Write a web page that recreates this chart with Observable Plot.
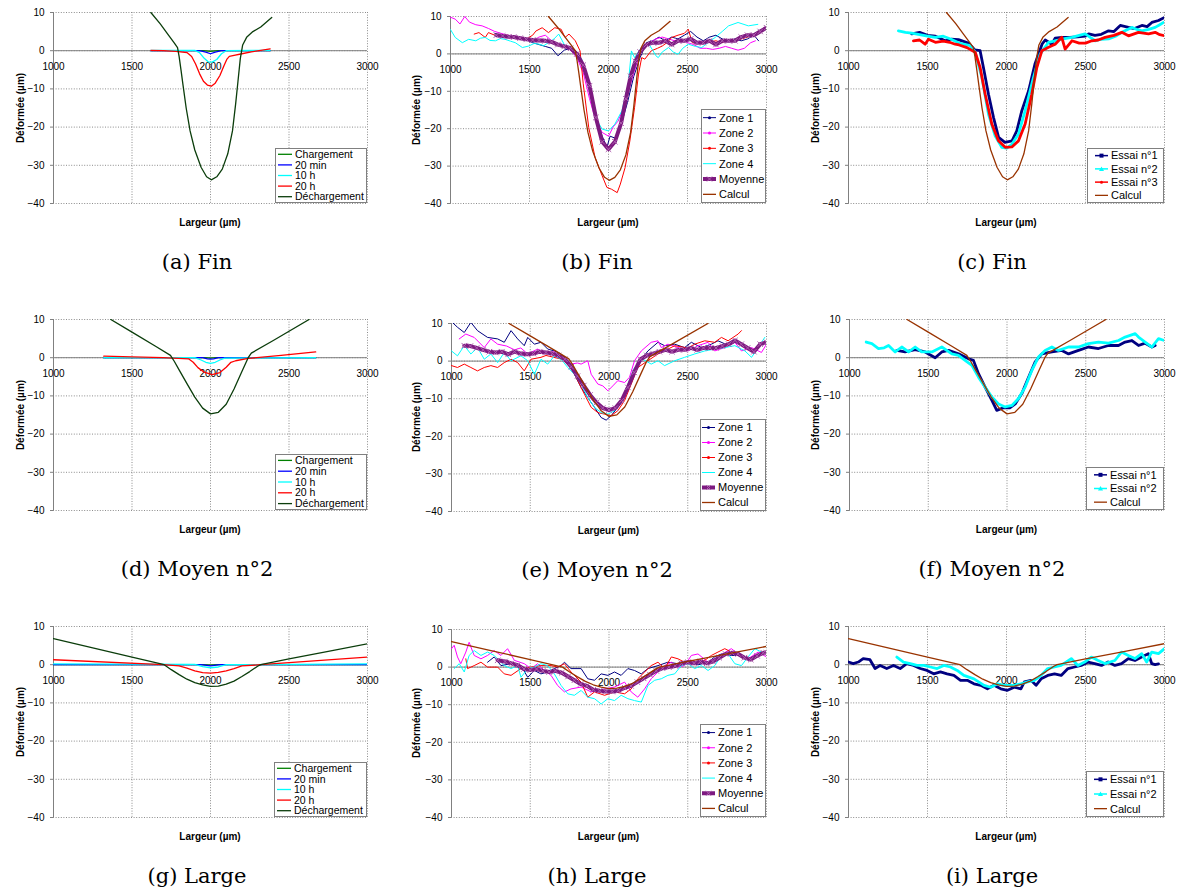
<!DOCTYPE html>
<html>
<head>
<meta charset="utf-8">
<script src="https://cdn.jsdelivr.net/npm/d3@7"></script>
<script src="https://cdn.jsdelivr.net/npm/@observablehq/plot@0.6"></script>
<style>
  html, body { margin: 0; padding: 0; background: #fff; }
  #root { position: relative; width: 1182px; height: 893px; overflow: hidden; background: #fff; }
  .ylab { position: absolute; font: bold 10px "Liberation Sans", Arial, sans-serif; white-space: nowrap; transform: translate(-50%, -50%) rotate(-90deg); }
  .xlab { position: absolute; font: bold 10px "Liberation Sans", Arial, sans-serif; white-space: nowrap; transform: translate(-50%, -50%); }
  .cap { position: absolute; font: 21px "DejaVu Serif", "Liberation Serif", serif; white-space: nowrap; transform: translate(-50%, -50%); color: #000; }
  .leg { position: absolute; box-sizing: border-box; border: 1px solid #808080; background: #fff; }
</style>
</head>
<body>
<div id="root"></div>
<script>
// ---------- axes ----------
const xTicks = [1000, 1500, 2000, 2500, 3000];
const yTicks = [-40, -30, -20, -10, 0, 10];

// ---------- Fin (a, b, c) ----------
const finCharge = [[1620,0],[1950,0],[2000,-0.2],[2050,0],[2380,0]];
const fin20min = [[1620,0],[1930,0],[1970,-0.4],[2000,-0.8],[2030,-0.4],[2070,0],[2380,0]];
const fin10h = [[1620,0.1],[1900,0.1],[1930,-0.5],[1960,-2],[1985,-2.9],[2010,-3],[2040,-2.3],[2070,-0.8],[2100,0],[2380,0.1]];
const fin20h = [[1620,0.1],[1700,0],[1780,-0.2],[1850,-0.5],[1880,-1.5],[1905,-3.5],[1930,-6],[1955,-8],[1980,-9],[2005,-9.3],[2030,-8.5],[2060,-6.5],[2085,-4],[2105,-2.2],[2120,-1.5],[2150,-1.2],[2200,-0.8],[2260,-0.3],[2320,0.1],[2380,0.5]];
const finDecharge = [[1620,10],[1680,7],[1730,4.2],[1770,2],[1790,0.8],[1800,-1.5],[1812,-5],[1825,-9],[1845,-15],[1870,-21],[1900,-26],[1940,-30.5],[1975,-33],[2005,-33.8],[2040,-33],[2075,-31],[2110,-27],[2140,-21],[2160,-14],[2175,-8],[2190,-2],[2205,1.5],[2230,3.5],[2270,5],[2320,6.2],[2390,8.7]];
const finCalcul = finDecharge;

const finZone1 = [[1280,5.5],[1320,5],[1360,4.8],[1400,4.5],[1440,4.2],[1480,3.8],[1520,3],[1560,2.5],[1600,2],[1640,1.5],[1680,-0.5],[1720,1],[1760,1.5],[1800,0.5],[1840,-3],[1880,-10],[1920,-17],[1960,-22],[1990,-25],[2010,-22],[2040,-22.5],[2080,-19],[2120,-13],[2160,-6],[2200,-1],[2240,3],[2280,3.5],[2320,4.5],[2360,3.5],[2400,4.5],[2440,4],[2480,5],[2520,6],[2560,4.5],[2600,3.5],[2640,4.5],[2680,5],[2720,4],[2760,3.5],[2800,4],[2840,3.5],[2880,4],[2920,5],[2950,3.5]];
const finZone2 = [[1000,9.8],[1030,9.3],[1060,8],[1090,10],[1120,8.5],[1160,7.8],[1200,7.5],[1240,6.8],[1280,6],[1320,5.5],[1360,5],[1400,4.8],[1440,4.5],[1480,4],[1520,3.5],[1560,4.5],[1600,5],[1640,3.5],[1680,2.5],[1720,2],[1760,1],[1800,-1],[1840,-5],[1880,-12],[1920,-18],[1960,-21],[2000,-22],[2030,-19.5],[2060,-18],[2090,-15],[2120,-11],[2160,-5],[2200,0],[2240,2.5],[2300,4],[2340,4.5],[2380,4],[2420,3.5],[2460,4],[2500,3],[2540,2.5],[2580,1.5],[2620,1.5],[2660,1.2],[2700,1.5],[2740,2],[2780,1.5],[2820,1],[2860,1.5],[2900,3],[2930,3.5]];
const finZone3 = [[1150,5.3],[1180,5.7],[1220,4.4],[1240,5.7],[1280,5],[1320,4.8],[1360,5],[1400,4.5],[1440,4.2],[1480,4],[1520,5],[1540,6.1],[1580,7],[1620,5.7],[1660,7],[1700,6.6],[1725,4.4],[1750,5.3],[1790,3.5],[1820,0.8],[1840,-8],[1875,-19.7],[1915,-27.7],[1960,-32.6],[1990,-35.7],[2020,-36.2],[2055,-37.1],[2075,-34.8],[2105,-30.4],[2135,-23.3],[2165,-14.3],[2190,-5.4],[2210,-1],[2230,-1.4],[2270,0.8],[2310,1.5],[2340,2.1],[2370,3],[2400,4.4],[2440,5],[2480,5.5],[2505,6.6],[2530,3],[2560,2.8],[2600,3],[2640,3.2],[2680,3.5],[2720,3],[2760,3.8],[2800,3.5],[2840,4],[2880,4.5],[2920,5],[2960,6],[2990,7]];
const finZone4 = [[1000,6.5],[1030,4.4],[1075,3],[1115,3.9],[1160,3.5],[1190,4.2],[1220,4.4],[1250,3.6],[1285,3.5],[1315,4.1],[1345,3.9],[1380,3.4],[1410,3],[1455,1.7],[1495,2.1],[1530,2.8],[1560,2.6],[1590,2.2],[1620,3],[1655,4],[1685,5.3],[1725,2.1],[1790,0.8],[1830,-1.4],[1875,-9],[1915,-17],[1960,-20.1],[2000,-20.6],[2040,-18.8],[2085,-15.2],[2125,-8.1],[2145,0.8],[2165,-1],[2200,1.2],[2255,2.6],[2280,1],[2300,-0.5],[2315,-1],[2340,0.5],[2380,1.7],[2410,0.5],[2440,-0.1],[2470,1.5],[2505,2.6],[2550,2],[2590,1.7],[2630,3],[2675,4.4],[2720,6],[2760,7.5],[2820,8.4],[2885,7.5],[2945,7.9]];
const finMoyenne = [[1290,5],[1330,4.8],[1370,4.6],[1400,4.5],[1440,4.2],[1480,3.9],[1520,3.7],[1560,3.6],[1600,3.5],[1640,3.2],[1680,2.5],[1720,2],[1760,1.5],[1800,0],[1840,-3],[1880,-8.5],[1920,-17],[1960,-23.5],[2000,-25.5],[2040,-23.5],[2080,-18.5],[2110,-12],[2140,-6],[2170,-2],[2200,0.5],[2240,2.5],[2280,3],[2320,3],[2360,3.5],[2400,2.5],[2440,3.5],[2480,3.5],[2520,4],[2560,3],[2600,3],[2640,3.5],[2680,2.5],[2720,3.5],[2760,3.5],[2800,3.5],[2840,4.5],[2880,5],[2920,5],[2960,6],[3000,7]];

const finEssai1 = [[1400,4.4],[1450,4.8],[1500,4],[1550,3.8],[1612,2.6],[1650,3],[1696,2.9],[1759,2],[1800,0.2],[1833,0],[1854,-4.4],[1886,-11.4],[1918,-17.5],[1950,-22.7],[1990,-24],[2035,-23.6],[2065,-21],[2097,-15.7],[2140,-10.5],[2180,-3.5],[2225,1.7],[2245,2.8],[2287,1.7],[2308,3.3],[2350,3.5],[2400,3.5],[2450,3.6],[2500,3.8],[2520,4.4],[2560,4],[2600,4.3],[2646,5.2],[2680,5],[2720,6.6],[2772,6.1],[2810,5.8],[2857,6.6],[2890,6.3],[2920,7.4],[2962,7.9],[3000,8.7]];
const finEssai2 = [[1316,5.2],[1360,4.8],[1400,4.6],[1450,4.2],[1500,3.8],[1550,3.5],[1600,3.8],[1650,3],[1700,2],[1770,1.3],[1802,-0.4],[1844,-7],[1886,-16.6],[1928,-22.3],[1970,-25.3],[2002,-25.5],[2034,-24.5],[2076,-21.8],[2118,-15.7],[2171,-7],[2213,-0.9],[2266,2.2],[2300,2.5],[2350,3],[2414,3.5],[2460,4],[2498,4.4],[2530,3.5],[2561,2.6],[2600,3],[2646,3.1],[2690,3.8],[2730,4.8],[2793,6.1],[2830,5.5],[2857,5.2],[2900,5.6],[2941,6.1],[2970,6.8],[2994,7.4]];
const finEssai3 = [[1411,2.6],[1450,2.8],[1485,1.7],[1506,3],[1550,2.2],[1600,2.5],[1640,2.2],[1675,1.7],[1700,1.5],[1750,0.8],[1802,-0.4],[1833,-4.4],[1865,-11.4],[1907,-19.2],[1949,-23.6],[1992,-25.3],[2034,-25.2],[2076,-23.6],[2118,-19.2],[2160,-11.4],[2192,-4.4],[2224,0],[2266,0.9],[2308,1.7],[2350,3.5],[2371,0.4],[2414,2.6],[2460,2],[2500,2],[2540,2.6],[2580,2.8],[2624,3.5],[2680,4],[2730,4.8],[2772,3.9],[2835,4.8],[2899,4.4],[2941,4.8],[2970,4.2],[3000,3.9]];

// ---------- Moyen n°2 (d, e, f) ----------
const moyCharge = [[1320,0],[1960,0],[2000,-0.1],[2040,0],[2670,0]];
const moy20min = [[1320,0],[1950,0],[1980,-0.3],[2000,-0.4],[2020,-0.3],[2050,0],[2670,0]];
const moy10h = [[1320,0],[1900,0],[1940,-0.6],[1970,-1.2],[2000,-1.5],[2030,-1.2],[2060,-0.6],[2090,-0.1],[2670,0]];
const moy20h = [[1320,0.4],[1500,0.2],[1700,0],[1860,-0.3],[1890,-1.2],[1920,-2.6],[1960,-3.8],[2010,-4.4],[2060,-3.9],[2100,-2.5],[2130,-1.2],[2160,-0.8],[2240,-0.2],[2450,0.6],[2670,1.5]];
const moyDecharge = [[1365,10],[1500,6.7],[1650,3],[1745,0.6],[1770,-1],[1800,-3.2],[1850,-6.8],[1900,-10.3],[1950,-13.2],[2000,-14.7],[2050,-14.3],[2100,-12.2],[2150,-8.2],[2200,-3.6],[2240,0],[2260,1.2],[2400,4.5],[2628,10]];
const moyCalcul = moyDecharge;

const moyZone1 = [[1000,10.5],[1038,9],[1081,7.6],[1123,10.3],[1165,8.1],[1229,6.3],[1293,5.9],[1335,5],[1378,8.1],[1420,5.9],[1462,4.1],[1484,6.3],[1526,4.5],[1568,5],[1611,3.2],[1653,2.7],[1696,1.9],[1738,0],[1780,-3.5],[1823,-7],[1865,-9.7],[1908,-12.3],[1950,-15],[1982,-15.7],[2014,-14.5],[2056,-12.3],[2099,-9.7],[2141,-4.3],[2183,-0.8],[2247,2.7],[2311,5],[2353,4.1],[2417,4.5],[2480,3.6],[2523,5],[2587,3.6],[2650,4.5],[2692,5.4],[2740,4.5],[2800,5],[2850,4.5]];
const moyZone2 = [[1049,5.9],[1091,7.2],[1144,6.3],[1208,3.6],[1250,5.9],[1293,4.5],[1350,4],[1400,3],[1440,3.5],[1484,1.9],[1547,3.2],[1600,2],[1650,2.5],[1700,1],[1759,-0.8],[1800,-0.5],[1823,-0.8],[1865,0.1],[1887,-3.5],[1929,-6.1],[1961,-6.6],[1993,-7.9],[2024,-6.6],[2056,-5.2],[2099,-5.7],[2130,-4.3],[2162,0.1],[2205,2.7],[2268,5],[2311,5.4],[2332,3.6],[2374,4.5],[2438,3.6],[2502,2.7],[2565,4.1],[2629,5],[2671,2.7],[2735,3.6],[2799,5],[2841,2.7],[2905,3.6],[2968,2.3],[3000,4.5]];
const moyZone3 = [[1000,-1.2],[1038,-1.7],[1081,-0.8],[1123,-1.7],[1165,-2.6],[1208,-1.7],[1250,-1.2],[1293,-1.7],[1335,-0.4],[1378,0.5],[1420,-0.4],[1462,-2.6],[1505,0.5],[1568,1],[1600,1.5],[1650,1],[1700,0.5],[1759,-1.7],[1802,-5.2],[1844,-8.8],[1887,-12.3],[1929,-13.7],[1971,-14.1],[2014,-14.5],[2056,-13.2],[2099,-10.5],[2141,-6.1],[2183,-1.7],[2247,0.1],[2311,1.9],[2353,2.7],[2417,4.1],[2500,3.5],[2544,4.5],[2608,5.4],[2671,5],[2714,6.3],[2756,5.4],[2820,7.2],[2841,8.1]];
const moyZone4 = [[1000,2.7],[1038,1.4],[1081,4.1],[1123,1.9],[1165,3.6],[1208,0.5],[1250,1.9],[1293,-0.4],[1335,2.3],[1378,0.1],[1441,1.4],[1484,0.1],[1526,-3.5],[1568,0.5],[1611,-0.8],[1653,1.4],[1696,0.5],[1738,-1.7],[1780,-3.5],[1823,-6.1],[1865,-9.7],[1908,-12.3],[1950,-13.7],[1993,-14.1],[2035,-13.2],[2077,-10.5],[2120,-6.1],[2162,-1.7],[2215,0.5],[2268,-0.8],[2311,0.1],[2353,-1.2],[2417,0.1],[2480,1],[2544,1.9],[2608,2.7],[2671,3.2],[2735,3.6],[2799,4.1],[2863,2.7],[2905,1],[2947,3.6],[2989,6.3]];
const moyMoyenne = [[1081,4.1],[1120,4],[1160,3.5],[1200,3],[1240,2.5],[1280,2.3],[1320,2.5],[1360,1.8],[1400,2.5],[1440,2],[1480,1.8],[1520,2],[1560,2.5],[1600,2.3],[1640,2],[1680,1.5],[1720,0.5],[1760,-1.5],[1800,-4],[1840,-6.5],[1880,-9],[1920,-11],[1960,-12.5],[2000,-13],[2040,-12.5],[2080,-10.5],[2120,-7],[2160,-3],[2200,0.5],[2240,1.5],[2280,2],[2320,2.5],[2360,3],[2400,2.5],[2440,3],[2480,3],[2520,3.5],[2560,3],[2600,3.5],[2640,3.5],[2680,3.5],[2720,4],[2760,4.5],[2800,5.5],[2840,4.5],[2880,3.5],[2920,2.5],[2960,4.5],[3000,5]];

const moyEssai1 = [[1300,1.9],[1353,1.5],[1417,2.1],[1480,1.5],[1544,0],[1586,1.5],[1629,1.9],[1692,1],[1756,-0.3],[1787,-0.7],[1819,-4.2],[1861,-7.7],[1904,-11.2],[1935,-13.8],[1978,-13.1],[2020,-13.1],[2052,-12.1],[2094,-9.4],[2137,-5.1],[2179,-1.1],[2221,1],[2285,1.5],[2348,1.9],[2391,1],[2454,1.9],[2517,2.8],[2581,2.4],[2644,3.2],[2708,3.2],[2750,4.1],[2793,4.5],[2835,3.2],[2877,3.8],[2920,2.8],[2941,3.2]];
const moyEssai2 = [[1106,4.1],[1142,3.7],[1184,2.4],[1220,2.6],[1248,3.2],[1290,1.5],[1332,2.8],[1375,1.5],[1417,2.8],[1459,1.5],[1523,1.5],[1586,2.8],[1650,1],[1692,0.6],[1734,-0.7],[1777,-2],[1819,-5.1],[1861,-7.7],[1904,-10.3],[1946,-12.1],[1988,-12.9],[2031,-12.5],[2073,-10.7],[2115,-7.7],[2158,-3.3],[2200,0.2],[2242,1.9],[2285,2.8],[2327,1.9],[2391,2.8],[2454,2.8],[2517,3.7],[2581,4.1],[2644,3.8],[2708,4.5],[2750,5.4],[2814,6.3],[2835,5.4],[2877,4.1],[2920,2.8],[2962,5],[3000,4.5]];

// ---------- Large (g, h, i) ----------
const lgCharge = [[1000,0],[1950,0],[2000,-0.1],[2050,0],[3000,0]];
const lg20min = [[1000,0],[1940,0],[2000,-0.3],[2060,0],[3000,0]];
const lg10h = [[1000,0.2],[1900,0.1],[1950,-0.5],[2000,-0.8],[2050,-0.6],[2100,0],[3000,0.2]];
const lg20h = [[1000,1.3],[1700,0],[1800,-0.3],[1850,-0.9],[1900,-1.6],[1950,-2.1],[2000,-2.2],[2050,-2],[2100,-1.6],[2150,-1],[2200,-0.3],[2320,0],[3000,2]];
const lgDecharge = [[1000,6.8],[1250,4.4],[1500,2],[1705,0],[1750,-1.3],[1800,-2.6],[1850,-3.8],[1900,-4.7],[1950,-5.3],[2000,-5.7],[2050,-5.6],[2100,-5.1],[2150,-4.3],[2200,-3.1],[2250,-1.8],[2300,-0.4],[2320,0],[2500,1.5],[2750,3.5],[3000,5.5]];
const lgCalcul = lgDecharge;

const lgZone1 = [[1229,1.3],[1271,2.7],[1314,0.4],[1378,0.9],[1441,0.4],[1484,-2.7],[1526,-0.9],[1568,-1.8],[1611,-1.3],[1653,-0.4],[1696,0.4],[1717,1.3],[1759,-0.4],[1823,-0.4],[1865,-3.1],[1908,-3.5],[1950,-1.8],[1993,-2.2],[2035,-1.3],[2077,-2.2],[2120,-0.4],[2162,-0.9],[2205,-1.8],[2247,-0.4],[2311,0.4],[2374,1.3],[2438,0.9],[2502,1.3],[2565,0.6],[2629,1.3],[2671,2.7],[2714,3.5],[2777,3.1],[2841,3.1],[2905,2.2],[2968,3.5]];
const lgZone2 = [[1000,4.9],[1017,5.8],[1038,2.7],[1059,0.9],[1091,4],[1112,6.6],[1144,3.1],[1187,2.2],[1229,3.1],[1271,4.4],[1314,3.1],[1356,4.9],[1399,1.8],[1462,0.9],[1505,-0.4],[1547,0.9],[1590,-0.9],[1632,-2.2],[1674,-4.9],[1717,-6.6],[1759,-5.8],[1823,-5.3],[1887,-6.6],[1929,-6.2],[1972,-5.8],[2035,-5.3],[2099,-4],[2141,-6.6],[2183,-8],[2226,-5.8],[2268,-3.1],[2311,-1.3],[2353,0.4],[2396,1.3],[2438,0],[2480,0.4],[2523,3.1],[2565,3.5],[2629,1.3],[2692,2.7],[2756,4.4],[2777,4.9],[2820,3.5],[2883,2.2],[2947,4],[3000,2.7]];
const lgZone3 = [[1091,2.2],[1102,-0.4],[1144,0.4],[1187,1.3],[1229,0],[1293,0],[1335,-1.8],[1378,-2.2],[1441,-0.4],[1505,0],[1568,0.4],[1632,0.4],[1674,0],[1717,0.9],[1759,-1.3],[1823,-4],[1865,-8],[1908,-6.6],[1972,-7.5],[2035,-6.6],[2099,-7.1],[2141,-5.8],[2183,-3.1],[2226,-1.3],[2268,0.4],[2311,1.3],[2353,-0.4],[2396,2.7],[2438,2.2],[2480,1.3],[2523,1.8],[2565,1.3],[2608,1.8],[2650,3.1],[2692,4],[2735,4.9],[2777,4],[2841,3.1],[2905,2.2],[2968,4]];
const lgZone4 = [[1017,-0.4],[1049,0.9],[1081,-1.3],[1112,3.1],[1144,4.4],[1187,3.1],[1229,4],[1271,3.1],[1335,0.4],[1378,-0.4],[1420,0.4],[1441,-2.7],[1484,-0.4],[1526,0],[1568,0.9],[1611,0.4],[1653,-1.8],[1696,-4.9],[1738,-7.1],[1780,-7.5],[1823,-6.2],[1865,-8],[1908,-8.4],[1950,-9.8],[1993,-8.4],[2035,-8.9],[2077,-7.5],[2120,-8.4],[2162,-8.9],[2205,-9.3],[2247,-4.9],[2290,-3.5],[2332,-3.1],[2374,-2.2],[2417,-1.8],[2459,0.4],[2502,0.9],[2544,-0.4],[2587,0.4],[2629,-0.9],[2671,0.4],[2714,3.1],[2756,3.5],[2799,0.9],[2841,0.4],[2883,2.7],[2926,4.9],[2968,4]];
const lgMoyenne = [[1293,1.8],[1340,1.5],[1380,1],[1420,0.5],[1460,-0.5],[1500,-0.8],[1540,-0.5],[1580,-1],[1620,-1.3],[1660,-1],[1700,-1.5],[1740,-2.5],[1780,-3.5],[1820,-4.5],[1860,-5],[1900,-6],[1940,-6.3],[1980,-6.5],[2020,-6.5],[2060,-6.3],[2100,-5.5],[2140,-5],[2180,-4],[2220,-3],[2260,-2],[2300,-1],[2340,-0.3],[2380,0],[2420,0.3],[2460,1],[2500,1.3],[2540,1],[2580,1.5],[2620,1],[2660,1.5],[2700,2.5],[2740,3.5],[2780,3.8],[2820,3.5],[2860,2.5],[2900,2],[2940,3],[2980,3.8],[3000,3.8]];

const lgEssai1 = [[1000,0.7],[1030,0.3],[1062,0.7],[1093,1.6],[1136,1.3],[1168,-1],[1200,-0.2],[1242,-1],[1285,-0.2],[1327,-1],[1369,0.3],[1412,-0.2],[1454,-1],[1497,-1.5],[1539,-2.4],[1582,-1.9],[1624,-2.4],[1667,-2.8],[1709,-4.1],[1752,-4.1],[1794,-5],[1837,-5.4],[1879,-6.3],[1921,-5.4],[1964,-6.3],[2006,-6.7],[2049,-5.9],[2091,-6.3],[2113,-4.5],[2155,-4.1],[2187,-5.4],[2219,-3.7],[2261,-2.8],[2304,-2.4],[2346,-2.8],[2389,-1],[2431,-0.6],[2473,-0.2],[2516,0.7],[2558,0.3],[2601,-0.2],[2643,0.7],[2686,-0.2],[2728,0.3],[2771,1.6],[2813,1.1],[2856,2],[2898,2.9],[2919,0.3],[2941,0],[2962,0.2]];
const lgEssai2 = [[1306,2],[1348,0.7],[1391,0.3],[1433,-0.2],[1476,-0.2],[1518,-0.6],[1561,-1],[1603,-0.2],[1645,-0.6],[1688,-1.5],[1730,-2.8],[1794,-3.7],[1858,-5.4],[1900,-5.9],[1943,-5],[1985,-5.4],[2049,-5.4],[2091,-5],[2134,-4.5],[2176,-4.1],[2219,-2.8],[2261,-1],[2304,-0.6],[2346,-0.2],[2410,1.6],[2452,-0.2],[2495,0.7],[2537,2],[2580,1.1],[2622,0.3],[2686,1.1],[2728,3.3],[2771,2.4],[2813,1.6],[2856,2.9],[2887,0.7],[2919,3.3],[2962,2.9],[3000,4.2]];

// ---------- labels ----------
const timeNames = ["Chargement", "20 min", "10 h", "20 h", "Déchargement"];
const zoneNames = ["Zone 1", "Zone 2", "Zone 3", "Zone 4", "Moyenne", "Calcul"];
const essaiNames3 = ["Essai n°1", "Essai n°2", "Essai n°3", "Calcul"];
const essaiNames2 = ["Essai n°1", "Essai n°2", "Calcul"];
const captions = ["(a) Fin", "(b) Fin", "(c) Fin", "(d) Moyen n°2", "(e) Moyen n°2", "(f) Moyen n°2", "(g) Large", "(h) Large", "(i) Large"];
const yTitle = "Déformée (µm)";
const xTitle = "Largeur (µm)";

// ---------- styles ----------
const ST = {
  "Chargement": {stroke: "#008000", w: 1.3},
  "20 min": {stroke: "#0000ff", w: 1.3},
  "10 h": {stroke: "#00ffff", w: 1.3},
  "20 h": {stroke: "#ff0000", w: 1.3},
  "Déchargement": {stroke: "#0b3d0b", w: 1.3},
  "Zone 1": {stroke: "#000080", w: 1, marker: "dot"},
  "Zone 2": {stroke: "#ff00ff", w: 1, marker: "dot"},
  "Zone 3": {stroke: "#ff0000", w: 1, marker: "dot"},
  "Zone 4": {stroke: "#00ffff", w: 1},
  "Moyenne": {stroke: "#7d1a80", w: 4, lw: 4, marker: "times"},
  "Calcul": {stroke: "#993300", w: 1.3},
  "Essai n°1": {stroke: "#000080", w: 2.8, lw: 1.5, marker: "square"},
  "Essai n°2": {stroke: "#00ffff", w: 2.8, lw: 1.5, marker: "triangle"},
  "Essai n°3": {stroke: "#ff0000", w: 2.8, lw: 1.5, marker: "dot"}
};

const root = document.getElementById("root");

const panels = [
  {box: [53, 12, 367, 203], names: timeNames, series: [finCharge, fin20min, fin10h, fin20h, finDecharge], leg: [275, 148, 367, 203], legType: "time"},
  {box: [450, 16, 766, 203], names: zoneNames, series: [finZone1, finZone2, finZone3, finZone4, finMoyenne, finCalcul], leg: [701, 109, 766, 203], legType: "zone"},
  {box: [848, 12, 1164, 203], names: essaiNames3, series: [finEssai1, finEssai2, finEssai3, finCalcul], leg: [1087, 148, 1164, 203], legType: "essai"},
  {box: [53, 319, 367, 510], names: timeNames, series: [moyCharge, moy20min, moy10h, moy20h, moyDecharge], leg: [275, 454, 367, 510], legType: "time"},
  {box: [451, 323, 766, 511], names: zoneNames, series: [moyZone1, moyZone2, moyZone3, moyZone4, moyMoyenne, moyCalcul], leg: [700, 419, 766, 511], legType: "zone"},
  {box: [849, 319, 1164, 510], names: essaiNames2, series: [moyEssai1, moyEssai2, moyCalcul], leg: [1086, 467, 1164, 510], legType: "essai"},
  {box: [53, 626, 367, 817], names: timeNames, series: [lgCharge, lg20min, lg10h, lg20h, lgDecharge], leg: [274, 762, 367, 817], legType: "time"},
  {box: [451, 629, 766, 817], names: zoneNames, series: [lgZone1, lgZone2, lgZone3, lgZone4, lgMoyenne, lgCalcul], leg: [700, 724, 766, 817], legType: "zone"},
  {box: [848, 626, 1164, 817], names: essaiNames2, series: [lgEssai1, lgEssai2, lgCalcul], leg: [1086, 771, 1164, 817], legType: "essai"}
];

const legLayout = {
  time: {l0: 3, l1: 17, tx: 20, fs: 10.5},
  zone: {l0: 2, l1: 15, tx: 18, fs: 11},
  essai: {l0: 8, l1: 21, tx: 24, fs: 11}
};

function seriesMarks(names, series) {
  const marks = [];
  names.forEach((name, i) => {
    const s = ST[name];
    marks.push(Plot.line(series[i], {x: d => d[0], y: d => d[1], stroke: s.stroke, strokeWidth: s.w, strokeLinejoin: "round", clip: true}));
    if (name === "Moyenne") {
      marks.push(Plot.dot(series[i], {x: d => d[0], y: d => d[1], symbol: "times", r: 2.6, stroke: "#b060b0", strokeWidth: 1, clip: true}));
    }
  });
  return marks;
}

function addDiv(cls, text, x, y) {
  const d = document.createElement("div");
  d.className = cls;
  d.textContent = text;
  d.style.left = x + "px";
  d.style.top = y + "px";
  root.appendChild(d);
}

function legend(p) {
  const [x0, y0, x1, y1] = p.leg;
  const L = legLayout[p.legType];
  const w = x1 - x0, h = y1 - y0;
  const div = document.createElement("div");
  div.className = "leg";
  div.style.left = x0 + "px";
  div.style.top = y0 + "px";
  div.style.width = w + "px";
  div.style.height = h + "px";
  root.appendChild(div);
  const svg = d3.select(div).append("svg").attr("width", w).attr("height", h)
    .style("position", "absolute").style("left", "-1px").style("top", "-1px").style("overflow", "visible");
  const n = p.names.length;
  const step = (h - 2) / n;
  p.names.forEach((name, i) => {
    const s = ST[name];
    const cy = 1 + step * (i + 0.5);
    const g = svg.append("g");
    g.append("line").attr("x1", L.l0).attr("x2", L.l1).attr("y1", cy).attr("y2", cy)
      .attr("stroke", s.stroke).attr("stroke-width", s.lw || s.w);
    const mx = (L.l0 + L.l1) / 2;
    if (s.marker === "dot") g.append("circle").attr("cx", mx).attr("cy", cy).attr("r", 1.5).attr("fill", s.stroke);
    if (s.marker === "square") g.append("rect").attr("x", mx - 2).attr("y", cy - 2).attr("width", 4).attr("height", 4).attr("fill", s.stroke);
    if (s.marker === "triangle") g.append("path").attr("d", `M${mx},${cy - 2.5}L${mx + 2.5},${cy + 2}L${mx - 2.5},${cy + 2}Z`).attr("fill", s.stroke);
    if (s.marker === "times") g.append("path").attr("d", `M${mx - 2.5},${cy - 2.5}L${mx + 2.5},${cy + 2.5}M${mx - 2.5},${cy + 2.5}L${mx + 2.5},${cy - 2.5}`).attr("stroke", "#b060b0").attr("stroke-width", 1);
    g.append("text").attr("x", L.tx).attr("y", cy).attr("dy", "0.35em")
      .attr("font-family", '"Liberation Sans", Arial, sans-serif').attr("font-size", L.fs).attr("fill", "#000")
      .text(name);
  });
}

panels.forEach((p, idx) => {
  const [L, T, R, B] = p.box;
  const mL = 50, mT = 8, mR = 8, mB = 10;
  const chart = Plot.plot({
    width: R - L + mL + mR,
    height: B - T + mT + mB,
    marginLeft: mL, marginTop: mT, marginRight: mR, marginBottom: mB,
    x: {domain: [1000, 3000], axis: null},
    y: {domain: [-40, 10]},
    style: {fontFamily: '"Liberation Sans", Arial, sans-serif', fontSize: "10px", color: "#000", background: "transparent", overflow: "visible"},
    marks: [
      Plot.gridX(xTicks, {stroke: "#8c8c8c", strokeOpacity: 1, strokeDasharray: "1,1.6"}),
      Plot.gridY(yTicks, {stroke: "#8c8c8c", strokeOpacity: 1, strokeDasharray: "1,1.6"}),
      Plot.ruleX([1000], {stroke: "#808080"}),
      Plot.ruleY([0], {stroke: "#808080"}),
      Plot.axisY(yTicks, {anchor: "left", tickSize: 3, tickPadding: 6, stroke: "#808080", fill: "#000", label: null, fontSize: 10}),
      Plot.text(xTicks, {x: d => d, y: () => 0, dy: 16, text: d => String(d), fill: "#000", fontSize: 10}),
      ...seriesMarks(p.names, p.series)
    ]
  });
  chart.style.position = "absolute";
  chart.style.left = (L - mL) + "px";
  chart.style.top = (T - mT) + "px";
  root.appendChild(chart);
  legend(p);
  const col = idx % 3;
  const ylabX = [20, 416, 815][col];
  addDiv("ylab", yTitle, ylabX, (T + B) / 2);
  addDiv("xlab", xTitle, (L + R) / 2, B + 19);
  const capX = [197, 597, 992][col];
  addDiv("cap", captions[idx], capX, B + 59);
});
</script>
</body>
</html>
